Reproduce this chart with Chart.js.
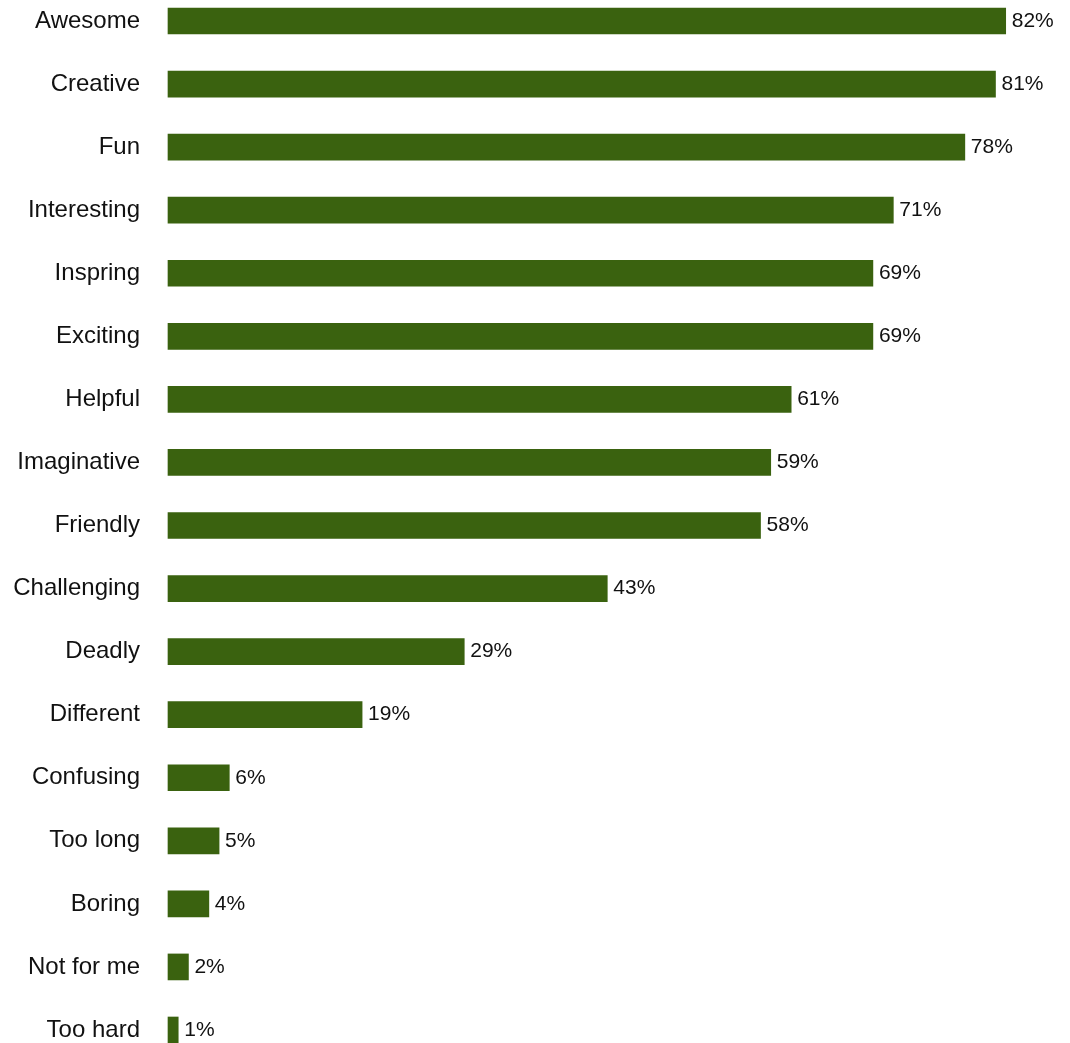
<!DOCTYPE html>
<html>
<head>
<meta charset="utf-8">
<script src="https://cdn.jsdelivr.net/npm/chart.js@4"></script>
<style>
  html, body { margin: 0; padding: 0; background: #fff; }
  #wrap { width: 1070px; height: 1043px; position: relative; }
</style>
</head>
<body>
<div id="wrap"><canvas id="barchart"></canvas></div>
<script>
const words = ["Awesome", "Creative", "Fun", "Interesting", "Inspring", "Exciting", "Helpful",
  "Imaginative", "Friendly", "Challenging", "Deadly", "Different", "Confusing", "Too long",
  "Boring", "Not for me", "Too hard"];
const percents = [82, 81, 78, 71, 69, 69, 61, 59, 58, 43, 29, 19, 6, 5, 4, 2, 1];

// prints "NN%" just past the end of each bar
const valueLabels = {
  id: 'valueLabels',
  afterDatasetsDraw(chart) {
    const c = chart.ctx;
    const meta = chart.getDatasetMeta(0);
    c.save();
    c.font = '21px "Liberation Sans", Arial, sans-serif';
    c.fillStyle = '#111';
    c.textAlign = 'left';
    c.textBaseline = 'middle';
    meta.data.forEach((bar, i) => {
      c.fillText(percents[i] + '%', bar.x + 6, bar.y);
    });
    c.restore();
  }
};

const ctx = document.getElementById('barchart').getContext('2d');
const barchart = new Chart(ctx, {
  type: 'bar',
  data: {
    labels: words,
    datasets: [{
      data: percents,
      backgroundColor: '#3a620f',
      barThickness: 26,
      clip: false
    }]
  },
  options: {
    indexAxis: 'y',
    responsive: true,
    maintainAspectRatio: false,
    animation: false,
    layout: { padding: { top: 21, bottom: 13, right: 3, left: 0 } },
    plugins: { legend: { display: false }, tooltip: { enabled: false } },
    scales: {
      x: { display: false, min: 0, max: 88 },
      y: {
        offset: false,
        border: { display: false },
        grid: { display: false, drawTicks: false },
        ticks: {
          padding: 28,
          color: '#111',
          font: { family: '"Liberation Sans", Arial, sans-serif', size: 24 }
        },
        afterFit(scale) {
          scale.width = 168;
          // first and last rows sit right on the area edges
          scale.paddingTop = 0;
          scale.paddingBottom = 0;
        }
      }
    }
  },
  plugins: [valueLabels]
});
</script>
</body>
</html>
